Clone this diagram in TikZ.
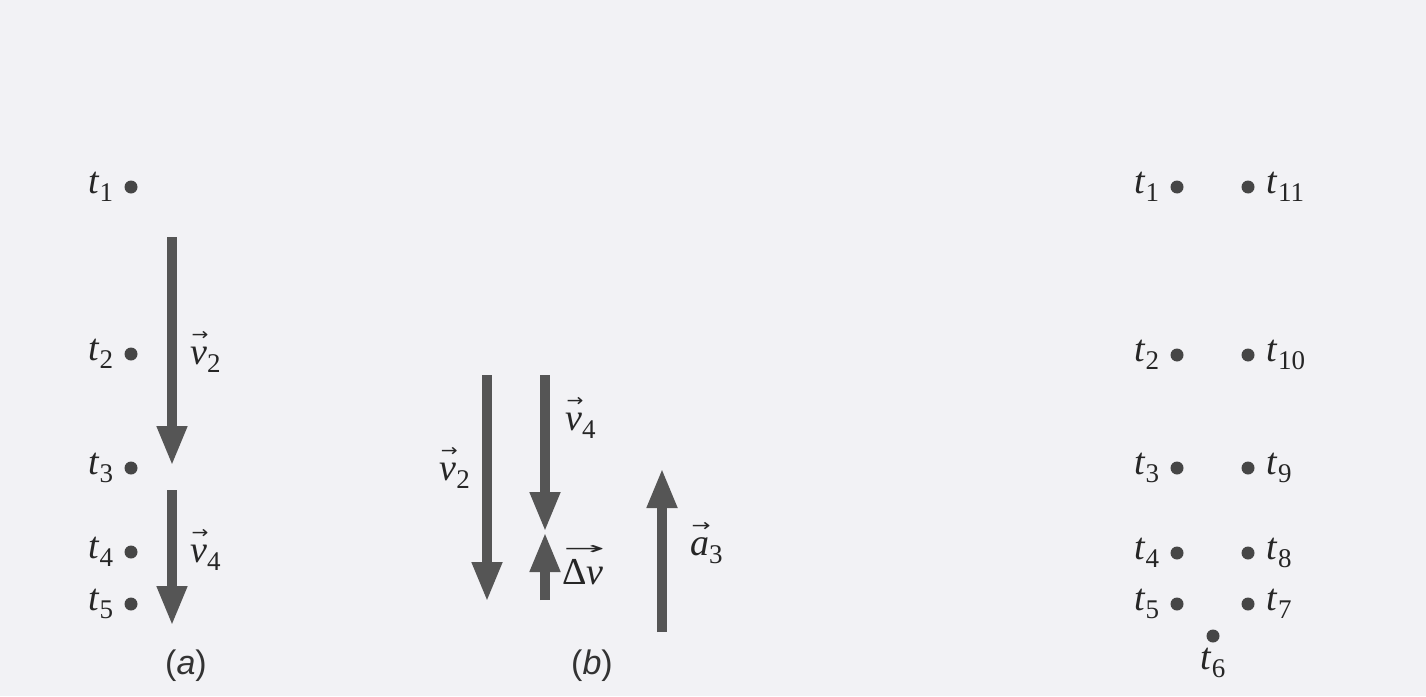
\documentclass[tikz,border=0pt]{standalone}
\usepackage{graphicx}
\usepackage{fontspec}
\newfontfamily\capfont{Liberation Sans}
\newfontfamily\labfont{Liberation Serif}
\newfontfamily\symfont{DejaVu Sans}
\usetikzlibrary{arrows.meta}
\definecolor{paper}{RGB}{242,242,245}
\definecolor{ink}{RGB}{85,85,85}
\definecolor{dotc}{RGB}{70,70,70}
\newcommand\subtxt[1]{\raisebox{-0.22em}{\fontsize{27}{30}\selectfont\labfont #1}}
\newcommand\tlab[1]{\textit{t}\subtxt{#1}}
\newcommand\arr[2][0.62em]{\setbox0=\hbox{\itshape #2}\rlap{\raisebox{#1}{\hbox to \wd0{\hskip0.04em\resizebox{\dimexpr\wd0\relax}{0.24em}{\symfont →}\hss}}}\box0}
\newcommand\vlab[2]{\arr{#1}\subtxt{#2}}
\begin{document}
\begin{tikzpicture}[x=1pt,y=-1pt,
  dot/.style={circle,fill=dotc,inner sep=0pt,minimum size=13pt},
  lab/.style={font=\fontsize{38}{44}\selectfont\labfont,text=black!85,inner sep=11pt},
  capstyle/.style={font=\fontsize{34}{40}\selectfont\capfont,text=black!80},
  vec/.style={draw=ink,line width=10pt,-{Triangle[width=28pt,length=40pt]}}
]
\fill[paper] (0,0) rectangle (1426,696);
\useasboundingbox (0,0) rectangle (1426,696);
% panel (a)
\node[dot] (a1) at (131,187) {};
\node[dot] (a2) at (131,354) {};
\node[dot] (a3) at (131,468) {};
\node[dot] (a4) at (131,552) {};
\node[dot] (a5) at (131,604) {};
\node[lab,anchor=east] (la1) at (a1.west) {\tlab{1}};
\node[lab,anchor=east] (la2) at (a2.west) {\tlab{2}};
\node[lab,anchor=east] (la3) at (a3.west) {\tlab{3}};
\node[lab,anchor=east] (la4) at (a4.west) {\tlab{4}};
\node[lab,anchor=east] (la5) at (a5.west) {\tlab{5}};
\coordinate (av2s) at (172,237);
\coordinate (av2e) at (172,466);
\coordinate (av4s) at (172,490);
\coordinate (av4e) at (172,626);
\draw[vec] (av2s) -- (av2e);
\draw[vec] (av4s) -- (av4e);
\node[lab,anchor=west,inner sep=0pt] (lav2) at (190,352) {\vlab{v}{2}};
\node[lab,anchor=west,inner sep=0pt] (lav4) at (190,550) {\vlab{v}{4}};
\node[capstyle] (capa) at (186,666) {(\textit{a})};
% panel (b)
\coordinate (bv2s) at (487,375);
\coordinate (bv2e) at (487,602);
\coordinate (bv4s) at (545,375);
\coordinate (bv4e) at (545,532);
\coordinate (bdvs) at (545,600);
\coordinate (bdve) at (545,532);
\coordinate (bas) at (662,632);
\coordinate (bae) at (662,468);
\draw[vec] (bv2s) -- (bv2e);
\draw[vec] (bv4s) -- (bv4e);
\draw[vec] (bdvs) -- (bdve);
\draw[vec] (bas) -- (bae);
\node[lab,anchor=east,inner sep=0pt] (lbv2) at (470,468) {\vlab{v}{2}};
\node[lab,anchor=west,inner sep=0pt] (lbv4) at (565,418) {\vlab{v}{4}};
\node[lab,anchor=west,inner sep=0pt] (lbdv) at (562,565) {\arr[0.78em]{\upshape Δ\itshape v}};
\node[lab,anchor=west,inner sep=0pt] (lba) at (690,543) {\vlab{a}{3}};
\node[capstyle] (capb) at (592,666) {(\textit{b})};
% right panel
\node[dot] (c1) at (1177,187) {};
\node[dot] (c2) at (1177,355) {};
\node[dot] (c3) at (1177,468) {};
\node[dot] (c4) at (1177,553) {};
\node[dot] (c5) at (1177,604) {};
\node[dot] (c6) at (1213,636) {};
\node[dot] (c7) at (1248,604) {};
\node[dot] (c8) at (1248,553) {};
\node[dot] (c9) at (1248,468) {};
\node[dot] (c10) at (1248,355) {};
\node[dot] (c11) at (1248,187) {};
\node[lab,anchor=east] (lc1) at (c1.west) {\tlab{1}};
\node[lab,anchor=east] (lc2) at (c2.west) {\tlab{2}};
\node[lab,anchor=east] (lc3) at (c3.west) {\tlab{3}};
\node[lab,anchor=east] (lc4) at (c4.west) {\tlab{4}};
\node[lab,anchor=east] (lc5) at (c5.west) {\tlab{5}};
\node[lab,anchor=north,inner sep=5pt] (lc6) at (c6.south) {\tlab{6}};
\node[lab,anchor=west,inner sep=12pt] (lc7) at (c7.east) {\tlab{7}};
\node[lab,anchor=west,inner sep=12pt] (lc8) at (c8.east) {\tlab{8}};
\node[lab,anchor=west,inner sep=12pt] (lc9) at (c9.east) {\tlab{9}};
\node[lab,anchor=west,inner sep=12pt] (lc10) at (c10.east) {\tlab{10}};
\node[lab,anchor=west,inner sep=12pt] (lc11) at (c11.east) {\tlab{11}};
\end{tikzpicture}
\end{document}
